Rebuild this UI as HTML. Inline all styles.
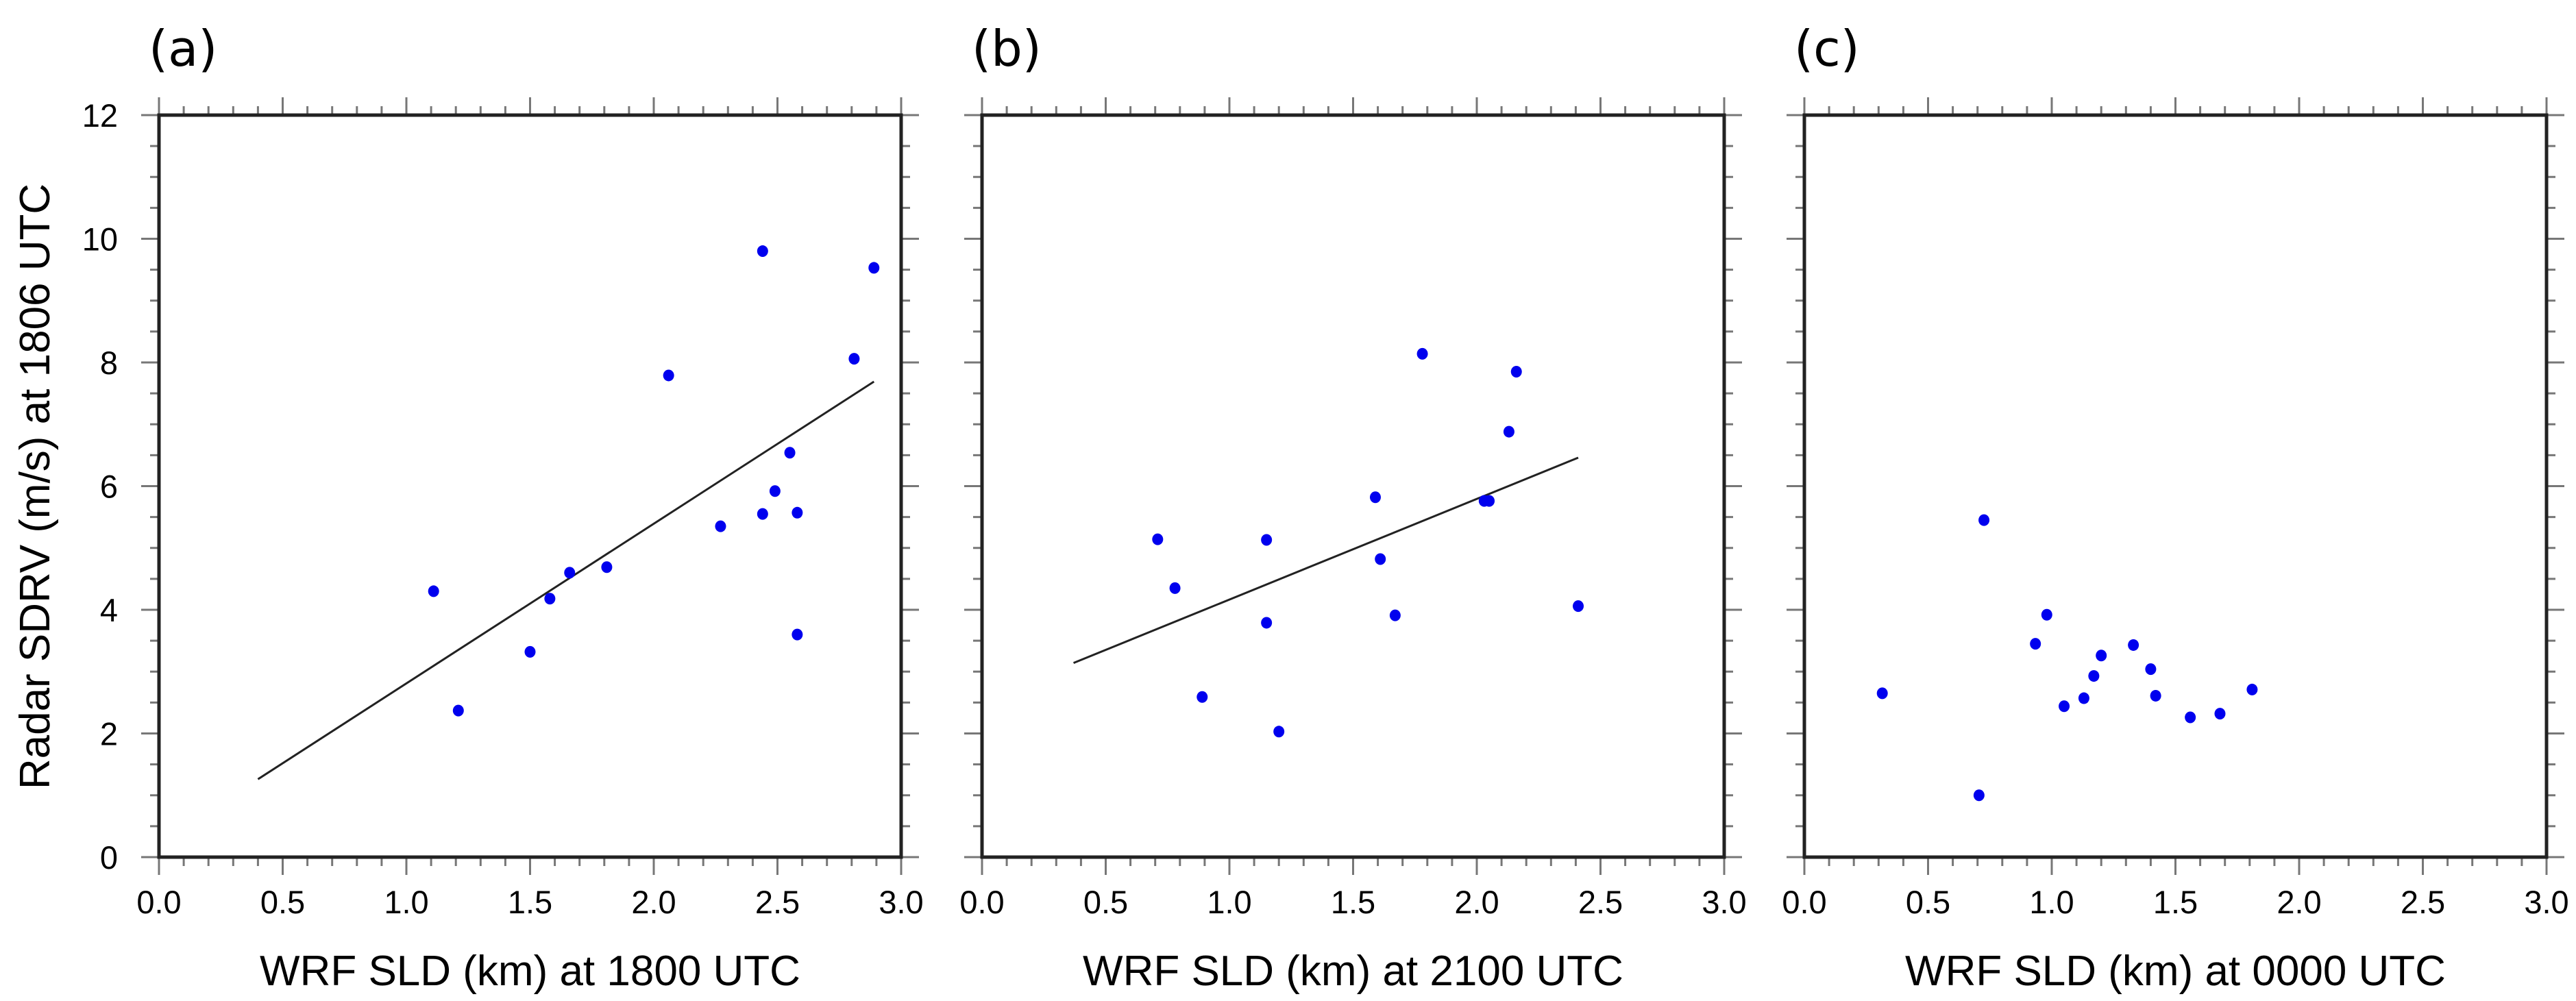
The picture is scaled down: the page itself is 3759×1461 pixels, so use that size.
<!DOCTYPE html>
<html><head><meta charset="utf-8"><style>
html,body{margin:0;padding:0;background:#fff;}
svg{display:block;}
text{font-family:"Liberation Sans",sans-serif;fill:#000;}
</style></head><body>
<svg id="chart" width="3759" height="1461" viewBox="0 0 3759 1461" xmlns="http://www.w3.org/2000/svg"></svg>
<script>
const panelLabels = ["(a)", "(b)", "(c)"];
const xTitles = ["WRF SLD (km) at 1800 UTC", "WRF SLD (km) at 2100 UTC", "WRF SLD (km) at 0000 UTC"];
const xTickLabels = ["0.0","0.5","1.0","1.5","2.0","2.5","3.0"];
const yTickLabels = ["0","2","4","6","8","10","12"];
const aX = [1.11,1.21,1.50,1.58,1.66,1.81,2.06,2.27,2.44,2.44,2.49,2.55,2.58,2.58,2.81,2.89];
const aY = [4.30,2.37,3.32,4.18,4.60,4.69,7.79,5.35,9.80,5.55,5.92,6.54,5.57,3.60,8.06,9.53];
const bX = [0.71,0.78,0.89,1.15,1.15,1.20,1.59,1.61,1.67,1.78,2.03,2.05,2.13,2.16,2.41];
const bY = [5.14,4.35,2.59,5.13,3.79,2.03,5.82,4.82,3.91,8.14,5.76,5.76,6.88,7.85,4.06];
const cX = [0.315,0.726,0.706,0.934,0.98,1.05,1.13,1.17,1.20,1.33,1.40,1.42,1.56,1.68,1.81];
const cY = [2.65,5.45,1.00,3.45,3.92,2.44,2.57,2.93,3.26,3.43,3.04,2.61,2.26,2.32,2.71];
const aFitX = [0.40,2.89];
const aFitY = [1.26,7.69];
const bFitX = [0.37,2.41];
const bFitY = [3.14,6.46];

const NS="http://www.w3.org/2000/svg";
const svg=document.getElementById('chart');
function mk(tag,attrs,parent){const e=document.createElementNS(NS,tag);for(const k in attrs)e.setAttribute(k,attrs[k]);(parent||svg).appendChild(e);return e;}
const lefts=[232,1433,2633], plotTop=168, size=1083;
const panels=[[aX,aY,aFitX,aFitY],[bX,bY,bFitX,bFitY],[cX,cY,null,null]];
panels.forEach((p,i)=>{
  const L=lefts[i];
  const xs=v=>L+v/3*size, ys=v=>plotTop+size-v/12*size;
  const g=mk('g',{});
  
  
  for(let k=0;k<=30;k++){
    const x=xs(k/10), len=(k%5===0)?26:13;
    const t1=mk('line',{x1:x,y1:plotTop+size,x2:x,y2:plotTop+size+len,stroke:'#777','stroke-width':3},g);
    
    
    const t2=mk('line',{x1:x,y1:plotTop,x2:x,y2:plotTop-len,stroke:'#777','stroke-width':3},g);
    
    
  }
  for(let k=0;k<=24;k++){
    const y=ys(k/2), len=(k%4===0)?26:13;
    const t1=mk('line',{x1:L,y1:y,x2:L-len,y2:y,stroke:'#777','stroke-width':3},g);
    
    
    const t2=mk('line',{x1:L+size,y1:y,x2:L+size+len,y2:y,stroke:'#777','stroke-width':3},g);
    
    
  }
  const fr=mk('rect',{x:L,y:plotTop,width:size,height:size,fill:'none',stroke:'#222','stroke-width':5},g);
  
  
  xTickLabels.forEach((s,k)=>{
    const t=mk('text',{x:xs(k*0.5),y:1333,'text-anchor':'middle','font-size':47},g);t.textContent=s;
    
    
  });
  if(i===0){
    yTickLabels.forEach((s,k)=>{
      const t=mk('text',{x:172,y:ys(k*2)+17,'text-anchor':'end','font-size':47},g);t.textContent=s;
      
      
    });
    const yt=mk('text',{x:0,y:0,'text-anchor':'middle','font-size':62,transform:'translate(72,710) rotate(-90)'},g);
    yt.textContent='Radar SDRV (m/s) at 1806 UTC';
    
    
  }
  const xt=mk('text',{x:L+size/2,y:1438,'text-anchor':'middle','font-size':62},g);xt.textContent=xTitles[i];
  
  
  const pl=mk('text',{x:L-15,y:96,'font-size':72,style:'font-family:"DejaVu Sans","Liberation Sans",sans-serif'},g);pl.textContent=panelLabels[i];
  
  
  if(p[2]){
    const ln=mk('line',{x1:xs(p[2][0]),y1:ys(p[3][0]),x2:xs(p[2][1]),y2:ys(p[3][1]),stroke:'#222','stroke-width':3},g);
    
    
  }
  p[0].forEach((xv,k)=>{
    const c=mk('ellipse',{cx:xs(xv),cy:ys(p[1][k]),rx:8,ry:8.5,fill:'#0000ee'},g);
    
    
  });
});
</script>
</body></html>
